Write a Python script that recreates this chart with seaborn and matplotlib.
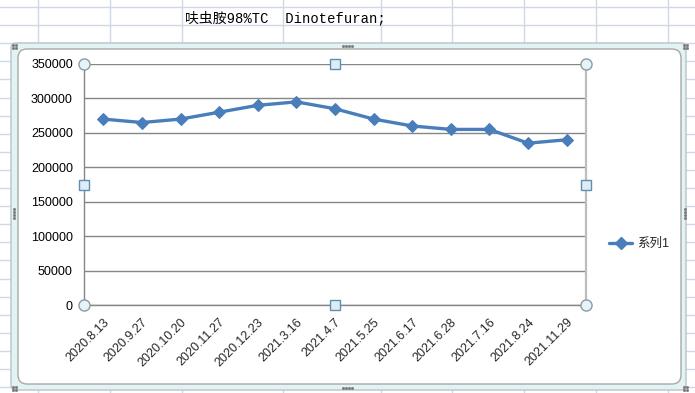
import matplotlib
matplotlib.use('Agg')
import matplotlib.pyplot as plt
import matplotlib.transforms as mtransforms
import seaborn as sns
import pandas as pd
import numpy as np
from matplotlib.patches import FancyBboxPatch
from matplotlib.lines import Line2D

# ---- data ----
dates = ['2020.8.13', '2020.9.27', '2020.10.20', '2020.11.27', '2020.12.23',
         '2021.3.16', '2021.4.7', '2021.5.25', '2021.6.17', '2021.6.28',
         '2021.7.16', '2021.8.24', '2021.11.29']
values = [270000, 265000, 270000, 280000, 290000, 295000, 285000,
          270000, 260000, 255000, 255000, 235000, 240000]
series_name = '系列1'
yticks = [0, 50000, 100000, 150000, 200000, 250000, 300000, 350000]
sheet_title = '呋虫胺98%TC  Dinotefuran;'

sns.set_theme(style='white')
plt.rcParams['font.family'] = ['Liberation Sans', 'Noto Sans CJK SC']

W, H = 695, 393
fig = plt.figure(figsize=(W / 100, H / 100), dpi=100)
fig.patch.set_facecolor('white')

# ---- spreadsheet background ----
bg = fig.add_axes([0, 0, 1, 1])
bg.set_xlim(0, W)
bg.set_ylim(H, 0)
bg.axis('off')
grid_c = '#d0d7e5'
for x in [38, 110, 182, 283, 381, 452, 524, 596, 668]:
    bg.plot([x, x], [0, H], color=grid_c, lw=1.0, zorder=0)
for y in np.arange(7, H, 18.1):
    bg.plot([0, W], [y, y], color=grid_c, lw=1.0, zorder=0)
bg.text(185, 18, sheet_title, family=['Liberation Mono', 'Noto Sans CJK SC'],
        fontsize=10, va='center', ha='left', color='black')

outer = FancyBboxPatch((11, 43), 675, 347,
                       boxstyle='round,pad=0,rounding_size=5',
                       fc='#e3f3f4', ec='#b5c4cc', lw=1.0, zorder=1)
bg.add_patch(outer)
inner = FancyBboxPatch((18, 49), 663, 335,
                       boxstyle='round,pad=0,rounding_size=9',
                       fc='white', ec='#a8a8a8', lw=1.0, zorder=2)
bg.add_patch(inner)
dot_kw = dict(marker='s', ms=1.0, color='#7a7a7a', ls='none', zorder=3)
bg.plot([343, 346, 349, 352], [46] * 4, **dot_kw)
bg.plot([343, 346, 349, 352], [388] * 4, **dot_kw)
bg.plot([14] * 4, [209, 212, 215, 218], **dot_kw)
bg.plot([685] * 4, [209, 212, 215, 218], **dot_kw)
for cx, cy in [(14, 46), (685, 46), (14, 388), (685, 388)]:
    bg.plot([cx - 1.5, cx + 1.5, cx - 1.5, cx + 1.5],
            [cy - 1.5, cy - 1.5, cy + 1.5, cy + 1.5], **dot_kw)

# ---- chart ----
ax = fig.add_axes([84 / W, (H - 305) / H, 502 / W, 241 / H])
ax.set_facecolor('none')
df = pd.DataFrame({'pos': np.arange(len(dates)), 'date': dates,
                   'value': values, 'series': series_name})
line_c = '#4a7ebb'
sns.lineplot(data=df, x='pos', y='value', ax=ax, color=line_c, lw=2.4,
             marker='D', markersize=6.5, markeredgecolor=line_c,
             markerfacecolor=line_c, legend=False, zorder=5)

ax.set_xlim(-0.5, len(dates) - 0.5)
ax.set_ylim(0, 350000)
ax.set_yticks(yticks)
ax.set_yticklabels([str(v) for v in yticks], fontsize=9)
ax.yaxis.grid(True, color='#868686', lw=1.0)
ax.set_axisbelow(True)
ax.tick_params(axis='y', length=0, pad=8, colors='black')

ax.set_xticks(np.arange(-0.5, len(dates)), minor=False)
ax.set_xticklabels([''] * (len(dates) + 1))
ax.set_xticks(np.arange(len(dates)), minor=True)
ax.set_xticklabels(dates, minor=True, rotation=45, ha='right',
                   va='center', rotation_mode='anchor', fontsize=9)
ax.tick_params(axis='x', which='major', length=4, direction='out',
               color='#868686', width=1)
ax.tick_params(axis='x', which='minor', length=0, pad=11)
shift = mtransforms.ScaledTranslation(4 / 100, 0, fig.dpi_scale_trans)
for lab in ax.get_xticklabels(minor=True):
    lab.set_transform(lab.get_transform() + shift)
ax.set_xlabel('')
ax.set_ylabel('')

for s in ['left', 'bottom']:
    ax.spines[s].set_color('#868686')
    ax.spines[s].set_linewidth(1.0)
ax.spines['top'].set_visible(False)
ax.spines['right'].set_color('#bdbdbd')
ax.spines['right'].set_linewidth(1.6)

# selection handles of the plot area
for (hx, hy) in [(0, 0), (1, 0), (0, 1), (1, 1)]:
    ax.plot(hx, hy, transform=ax.transAxes, clip_on=False, marker='o', ms=8,
            mfc='#e6f3f7', mec='#8a9aa6', mew=1.0, zorder=10)
for (hx, hy) in [(0.5, 0), (0.5, 1), (0, 0.5), (1, 0.5)]:
    ax.plot(hx, hy, transform=ax.transAxes, clip_on=False, marker='s', ms=6.5,
            mfc='#dcedf6', mec='#5f8fb0', mew=1.0, zorder=10)

# legend
handle = Line2D([], [], color=line_c, lw=2.4, marker='D', markersize=6.5)
fig.legend([handle], [series_name], loc='center left',
           bbox_to_anchor=(598 / W, 1 - 244 / H), frameon=False,
           handlelength=1.8, handletextpad=0.4, prop={'size': 9})

fig.savefig('out.png', dpi=100)
